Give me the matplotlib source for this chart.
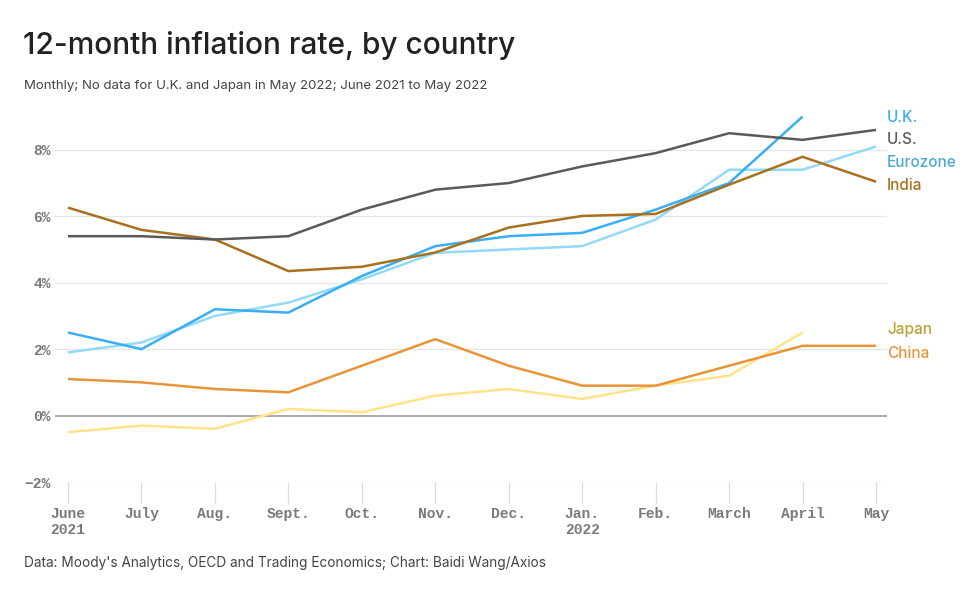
import matplotlib
matplotlib.use("Agg")
import matplotlib.pyplot as plt

months = ["June\n2021", "July", "Aug.", "Sept.", "Oct.", "Nov.", "Dec.",
          "Jan.\n2022", "Feb.", "March", "April", "May"]
us = [5.4, 5.4, 5.3, 5.4, 6.2, 6.8, 7.0, 7.5, 7.9, 8.5, 8.3, 8.6]
india = [6.26, 5.59, 5.30, 4.35, 4.48, 4.91, 5.66, 6.01, 6.07, 6.95, 7.79, 7.04]
uk = [2.5, 2.0, 3.2, 3.1, 4.2, 5.1, 5.4, 5.5, 6.2, 7.0, 9.0]
eurozone = [1.9, 2.2, 3.0, 3.4, 4.1, 4.9, 5.0, 5.1, 5.9, 7.4, 7.4, 8.1]
china = [1.1, 1.0, 0.8, 0.7, 1.5, 2.3, 1.5, 0.9, 0.9, 1.5, 2.1, 2.1]
japan = [-0.5, -0.3, -0.4, 0.2, 0.1, 0.6, 0.8, 0.5, 0.9, 1.2, 2.5]
yticks = [-2, 0, 2, 4, 6, 8]

series = [
    ("Japan", japan, "#fee38a", "#b9a233"),
    ("China", china, "#e8953a", "#e8953a"),
    ("Eurozone", eurozone, "#93d9f8", "#4fa8d2"),
    ("U.K.", uk, "#3aaef5", "#3aaef5"),
    ("India", india, "#a8701f", "#a8701f"),
    ("U.S.", us, "#5a5a5a", "#5a5a5a"),
]

fig = plt.figure(figsize=(9.77, 5.97), dpi=100)
ax = fig.add_axes([55/977, 1-482/597, (887-55)/977, (482-100)/597])

for name, vals, col, lcol in series:
    ax.plot(range(len(vals)), vals, color=col, lw=1.8, solid_capstyle="butt", zorder=3)

ax.set_xlim(-0.177, 11.15)
ax.set_ylim(-2, 9.5)
ax.set_yticks(yticks)
ax.set_yticklabels([f"{v}%" if v >= 0 else f"\u2212{abs(v)}%" for v in yticks])
for v in yticks:
    ax.axhline(v, color="#999999" if v == 0 else "#e6e6e6", lw=1.2 if v == 0 else 0.9, zorder=1)
ax.set_xticks(range(len(months)))
ax.set_xticklabels(months, ha="center", va="top", linespacing=1.15)
ax.tick_params(axis="x", length=15, width=0.9, color="#dddddd", pad=3,
               labelsize=10.5, labelcolor="#7a7a7a")
ax.tick_params(axis="y", length=0, pad=3, labelsize=10.5, labelcolor="#7a7a7a")
for lab in ax.get_xticklabels() + ax.get_yticklabels():
    lab.set_fontfamily(["Liberation Mono", "DejaVu Sans Mono"])
    lab.set_fontweight("bold")
for s in ax.spines.values():
    s.set_visible(False)

# right-side labels
label_y = {"U.K.": 118, "U.S.": 140, "Eurozone": 162, "India": 185, "Japan": 330, "China": 353}
for name, vals, col, lcol in series:
    fig.text(887/977, 1 - label_y[name]/597, name, color=lcol, fontsize=11,
             family="Inter", weight="medium", va="center", ha="left")

fig.text(23/977, 1 - 46/597, "12-month inflation rate, by country", fontsize=21.5,
         family="Inter", weight="medium", color="#222222", va="center", ha="left")
fig.text(24/977, 1 - 86/597, "Monthly; No data for U.K. and Japan in May 2022; June 2021 to May 2022",
         fontsize=9.5, family="Inter", color="#444444", va="center", ha="left")
fig.text(24/977, 1 - 563/597, "Data: Moody's Analytics, OECD and Trading Economics; Chart: Baidi Wang/Axios",
         fontsize=9.8, family="Inter", color="#444444", va="center", ha="left")

fig.savefig("out.png", dpi=100, facecolor="white")
